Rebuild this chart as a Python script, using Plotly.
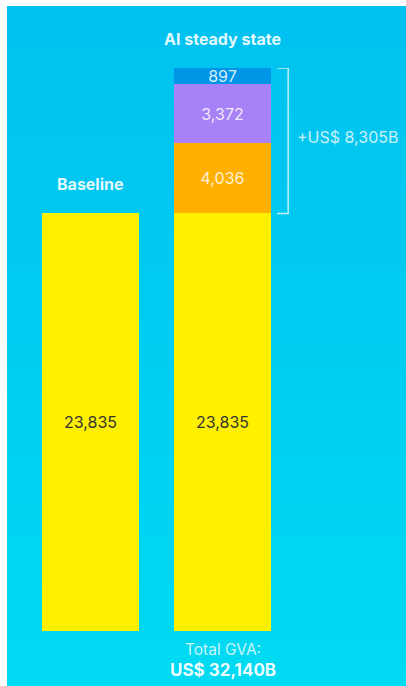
import plotly.graph_objects as go

# ---- data ----
categories = ["Baseline", "AI steady state"]
baseline_values = [23835, 23835]
ai_segment_names = ["Segment A", "Segment B", "Segment C"]
ai_segment_values = [4036, 3372, 897]
ai_segment_colors = ["#FFB000", "#A682F6", "#0096E8"]

total_ai = baseline_values[1] + sum(ai_segment_values)
uplift = sum(ai_segment_values)

FONT = "Inter"
xpos = [0, 1]
BAR_W = 0.735
OFF_X, OFF_Y = 7, 6
W, H = 406 - OFF_X, 686 - OFF_Y
M_T = 68 - OFF_Y
M_B = 686 - 631
X0_PX = 90.5 - OFF_X   # centre of first bar in figure pixels
DX_PX = 132.0          # distance between bar centres

fig = go.Figure()

fig.add_trace(go.Bar(
    x=xpos, y=baseline_values, width=BAR_W, name="Baseline GVA",
    marker=dict(color="#FFF000", line=dict(width=0)),
    text=[f"{v:,}" for v in baseline_values], textposition="inside",
    insidetextanchor="middle", textangle=0,
    textfont=dict(family=FONT, size=16, color="#333333"),
    hoverinfo="skip", showlegend=False,
))
for name, val, col in zip(ai_segment_names, ai_segment_values, ai_segment_colors):
    fig.add_trace(go.Bar(
        x=[xpos[1]], y=[val], width=BAR_W, name=name,
        marker=dict(color=col, line=dict(width=0)),
        text=[f"{val:,}"], textposition="inside", insidetextanchor="middle",
        textangle=0,
        textfont=dict(family=FONT, size=16, color="rgba(255,255,255,0.85)"),
        hoverinfo="skip", showlegend=False,
    ))

# bracket for the uplift
bx0 = xpos[1] + BAR_W / 2 + 0.045
bx1 = xpos[1] + BAR_W / 2 + 0.13
fig.add_trace(go.Scatter(
    x=[bx0, bx1, bx1, bx0],
    y=[baseline_values[1], baseline_values[1], total_ai, total_ai],
    mode="lines", line=dict(color="rgba(255,255,255,0.75)", width=1.5),
    hoverinfo="skip", showlegend=False, cliponaxis=False,
))

annotations = [
    dict(x=xpos[0], y=baseline_values[0], text=f"<b>{categories[0]}</b>",
         yanchor="bottom", yshift=17, showarrow=False,
         font=dict(family=FONT, size=16, color="rgba(255,255,255,0.9)")),
    dict(x=xpos[1], y=total_ai, text=f"<b>{categories[1]}</b>",
         yanchor="bottom", yshift=17, showarrow=False,
         font=dict(family=FONT, size=16, color="rgba(255,255,255,0.9)")),
    dict(x=bx1, y=(baseline_values[1] + total_ai) / 2, text=f"+US$ {uplift:,}B",
         xanchor="left", xshift=7, yshift=4, showarrow=False,
         font=dict(family=FONT, size=16, color="rgba(255,255,255,0.8)")),
    dict(x=xpos[1], y=0, text="Total GVA:", yanchor="top", yshift=-7,
         showarrow=False,
         font=dict(family=FONT, size=15.5, color="rgba(255,255,255,0.8)")),
    dict(x=xpos[1], y=0, text=f"<b>US$ {total_ai:,}B</b>", yanchor="top",
         yshift=-27, showarrow=False,
         font=dict(family=FONT, size=17, color="rgba(255,255,255,0.95)")),
]

# background gradient bands spanning the whole figure (paper coords extend past plot area)
ph = H - M_T - M_B
y_bot = -M_B / ph
y_top = 1 + M_T / ph
shapes = []
N = 80
top_rgb = (0, 193, 240)
bot_rgb = (0, 218, 242)
for i in range(N):
    t = i / (N - 1)
    c = tuple(round(a + (b - a) * t) for a, b in zip(top_rgb, bot_rgb))
    y1 = y_top - (y_top - y_bot) * i / N
    y0 = y_top - (y_top - y_bot) * (i + 1) / N
    shapes.append(dict(type="rect", xref="paper", yref="paper",
                       x0=-0.05, x1=1.05, y0=y0 - 0.002, y1=y1,
                       fillcolor=f"rgb{c}", line=dict(width=0), layer="below"))

fig.update_layout(
    width=W, height=H,
    margin=dict(l=0, r=0, t=M_T, b=M_B),
    paper_bgcolor="rgb(0,205,241)", plot_bgcolor="rgba(0,0,0,0)",
    barmode="stack", bargap=0,
    shapes=shapes, annotations=annotations,
    uniformtext=dict(minsize=16, mode="show"),
    xaxis=dict(range=[-X0_PX / DX_PX, (W - X0_PX) / DX_PX], visible=False, fixedrange=True),
    yaxis=dict(range=[0, total_ai], visible=False, fixedrange=True),
    font=dict(family=FONT),
)

post = (f"document.body.style.margin='{OFF_Y}px 0 0 {OFF_X}px';"
        "document.body.style.overflow='hidden';"
        "document.documentElement.style.background='white';")
fig.write_html("out.html", config={"displayModeBar": False}, post_script=post)
